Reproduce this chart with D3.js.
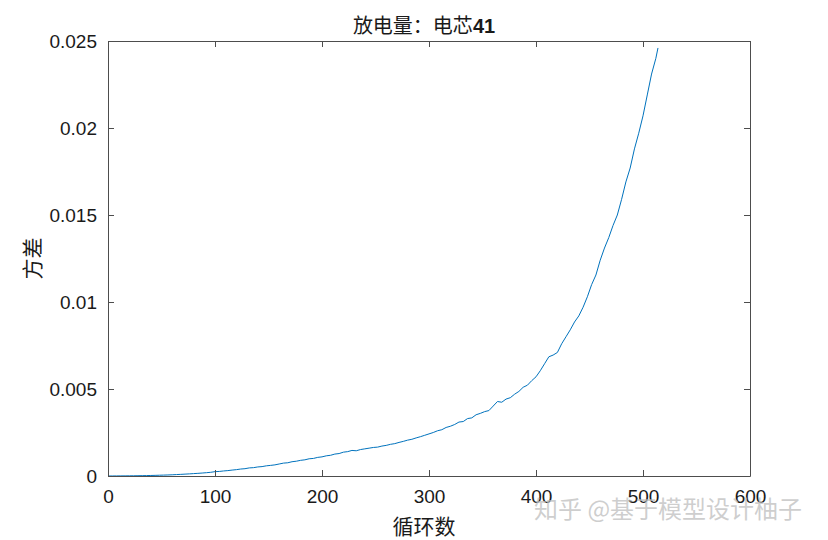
<!DOCTYPE html>
<html lang="zh">
    <head>
        <meta charset="utf-8">
        <script type="text/javascript" src="https://d3js.org/d3.v7.min.js"></script>
        <style type="text/css">
          body { margin: 0; background: white; }
          svg { display: block; }
          .tick text { font-family: "Liberation Sans", Arial, sans-serif; font-size: 19px; fill: #1a1a1a; }
        </style>
    </head>
    <body>
      <script type="text/javascript">
        // cycle numbers and variance
        var cycles = [0, 4, 8, 12, 16, 20, 24, 28, 32, 36, 40, 44, 48, 52, 56, 60, 64, 68, 72, 76,
          80, 84, 88, 92, 96, 100, 104, 108, 112, 116, 120, 124, 128, 132, 136, 140, 144, 148, 152, 156,
          160, 164, 168, 172, 176, 180, 184, 188, 192, 196, 200, 204, 208, 212, 216, 220, 224, 228, 232, 236,
          240, 244, 248, 252, 256, 260, 264, 268, 272, 276, 280, 284, 288, 292, 296, 300, 304, 308, 312, 316,
          320, 324, 328, 332, 336, 340, 344, 348, 352, 356, 360, 364, 368, 372, 376, 380, 384, 388, 392, 396,
          400, 404, 408, 412, 416, 420, 424, 428, 432, 436, 440, 444, 448, 452, 456, 460, 464, 468, 472, 476,
          480, 484, 488, 492, 496, 500, 504, 508, 512, 514];
        var variance = [0, 0.000002, 0.000004, 0.000006, 0.000008, 0.00001, 0.000012, 0.000016, 0.00002, 0.000025,
          0.00003, 0.000036, 0.000044, 0.000052, 0.00006, 0.00007, 0.000082, 0.000094, 0.000108, 0.000122,
          0.000138, 0.000152, 0.00017, 0.00019, 0.000212, 0.00025, 0.000262, 0.00029, 0.00031, 0.00034,
          0.000365, 0.0004, 0.00042, 0.000465, 0.00048, 0.00052, 0.00054, 0.000585, 0.00061, 0.00064,
          0.00069, 0.00074, 0.00076, 0.00082, 0.00085, 0.0009, 0.00093, 0.00099, 0.00101, 0.00107,
          0.0011, 0.00116, 0.00119, 0.00126, 0.00129, 0.00137, 0.0014, 0.00147, 0.00145, 0.00152,
          0.00156, 0.0016, 0.00164, 0.00166, 0.00172, 0.00176, 0.00182, 0.00186, 0.00193, 0.00199,
          0.00206, 0.00211, 0.00219, 0.00226, 0.00234, 0.00242, 0.0025, 0.0026, 0.00266, 0.00279,
          0.00286, 0.00296, 0.0031, 0.00313, 0.0033, 0.00334, 0.00352, 0.0036, 0.0037, 0.00376,
          0.00402, 0.00428, 0.00424, 0.00442, 0.0045, 0.0047, 0.00486, 0.0051, 0.00522, 0.00548,
          0.0057, 0.00605, 0.00645, 0.00685, 0.00695, 0.0071, 0.0076, 0.008, 0.0084, 0.00885,
          0.0092, 0.0097, 0.0103, 0.011, 0.01155, 0.0124, 0.0131, 0.0137, 0.0144, 0.015,
          0.0159, 0.0169, 0.0177, 0.0188, 0.0197, 0.0207, 0.0219, 0.0231, 0.024, 0.0246];
        var xTicks = [0, 100, 200, 300, 400, 500, 600];
        var yTicks = [0, 0.005, 0.01, 0.015, 0.02, 0.025];
        var yTickLabels = ["0", "0.005", "0.01", "0.015", "0.02", "0.025"];

        var w = 828, h = 540;
        // plot box (note: "top" is reserved on window, so use other names)
        var boxLeft = 108, boxRight = 750, boxTop = 41, boxBottom = 476;
        var axisColor = "#4d4d4d";

        var svg = d3.select("body").append("svg").attr("width", w).attr("height", h);

        var xScale = d3.scaleLinear().domain([0, 600]).range([boxLeft, boxRight]);
        var yScale = d3.scaleLinear().domain([0, 0.025]).range([boxBottom, boxTop]);

        // the line
        var line = d3.line()
                     .x(function(d, i) { return xScale(cycles[i]); })
                     .y(function(d) { return yScale(d); });

        svg.append("path")
           .datum(variance)
           .attr("fill", "none")
           .attr("stroke", "#0072BD")
           .attr("stroke-width", 1)
           .attr("d", line);

        // axes with inward ticks, box on all sides
        var xAxis = svg.append("g")
          .attr("transform", "translate(0," + boxBottom + ")")
          .call(d3.axisBottom(xScale).tickValues(xTicks).tickSizeInner(-6).tickSizeOuter(0).tickPadding(14));
        var yAxis = svg.append("g")
          .attr("transform", "translate(" + boxLeft + ",0)")
          .call(d3.axisLeft(yScale).tickValues(yTicks).tickFormat(function(d, i) { return yTickLabels[i]; })
                .tickSizeInner(-6).tickSizeOuter(0).tickPadding(11));
        var xTop = svg.append("g")
          .attr("transform", "translate(0," + boxTop + ")")
          .call(d3.axisTop(xScale).tickValues(xTicks).tickSizeInner(-6).tickSizeOuter(0).tickFormat(""));
        var yRight = svg.append("g")
          .attr("transform", "translate(" + boxRight + ",0)")
          .call(d3.axisRight(yScale).tickValues(yTicks).tickSizeInner(-6).tickSizeOuter(0).tickFormat(""));

        [xAxis, yAxis, xTop, yRight].forEach(function(g) {
          g.selectAll("path").attr("stroke", axisColor);
          g.selectAll("line").attr("stroke", axisColor);
        });
        yAxis.selectAll("text").attr("dy", "0.36em");

        // title
        var title = svg.append("text")
          .attr("x", (boxLeft + boxRight) / 2 - 5)
          .attr("y", 33)
          .attr("text-anchor", "middle")
          .style("font-family", "'Noto Sans CJK SC', sans-serif")
          .style("font-size", "20px")
          .attr("fill", "#1a1a1a");
        title.append("tspan").text("放电量：电芯");
        title.append("tspan").text("41").style("font-weight", "bold")
             .style("font-family", "'Liberation Sans', Arial, sans-serif");

        // axis labels
        svg.append("text")
          .attr("x", (boxLeft + boxRight) / 2 - 5)
          .attr("y", 534)
          .attr("text-anchor", "middle")
          .style("font-family", "'Noto Sans CJK SC', sans-serif")
          .style("font-size", "21px")
          .attr("fill", "#1a1a1a")
          .text("循环数");
        svg.append("text")
          .attr("transform", "translate(40," + (boxTop + boxBottom) / 2 + ") rotate(-90)")
          .attr("text-anchor", "middle")
          .style("font-family", "'Noto Sans CJK SC', sans-serif")
          .style("font-size", "21px")
          .attr("fill", "#1a1a1a")
          .text("方差");

        // watermark
        svg.append("text")
          .attr("x", 534)
          .attr("y", 518)
          .style("font-family", "'Noto Sans CJK SC', sans-serif")
          .style("font-size", "24px")
          .attr("fill", "rgba(190,190,190,0.75)")
          .text("知乎 @基于模型设计柚子");
      </script>
    </body>
</html>
